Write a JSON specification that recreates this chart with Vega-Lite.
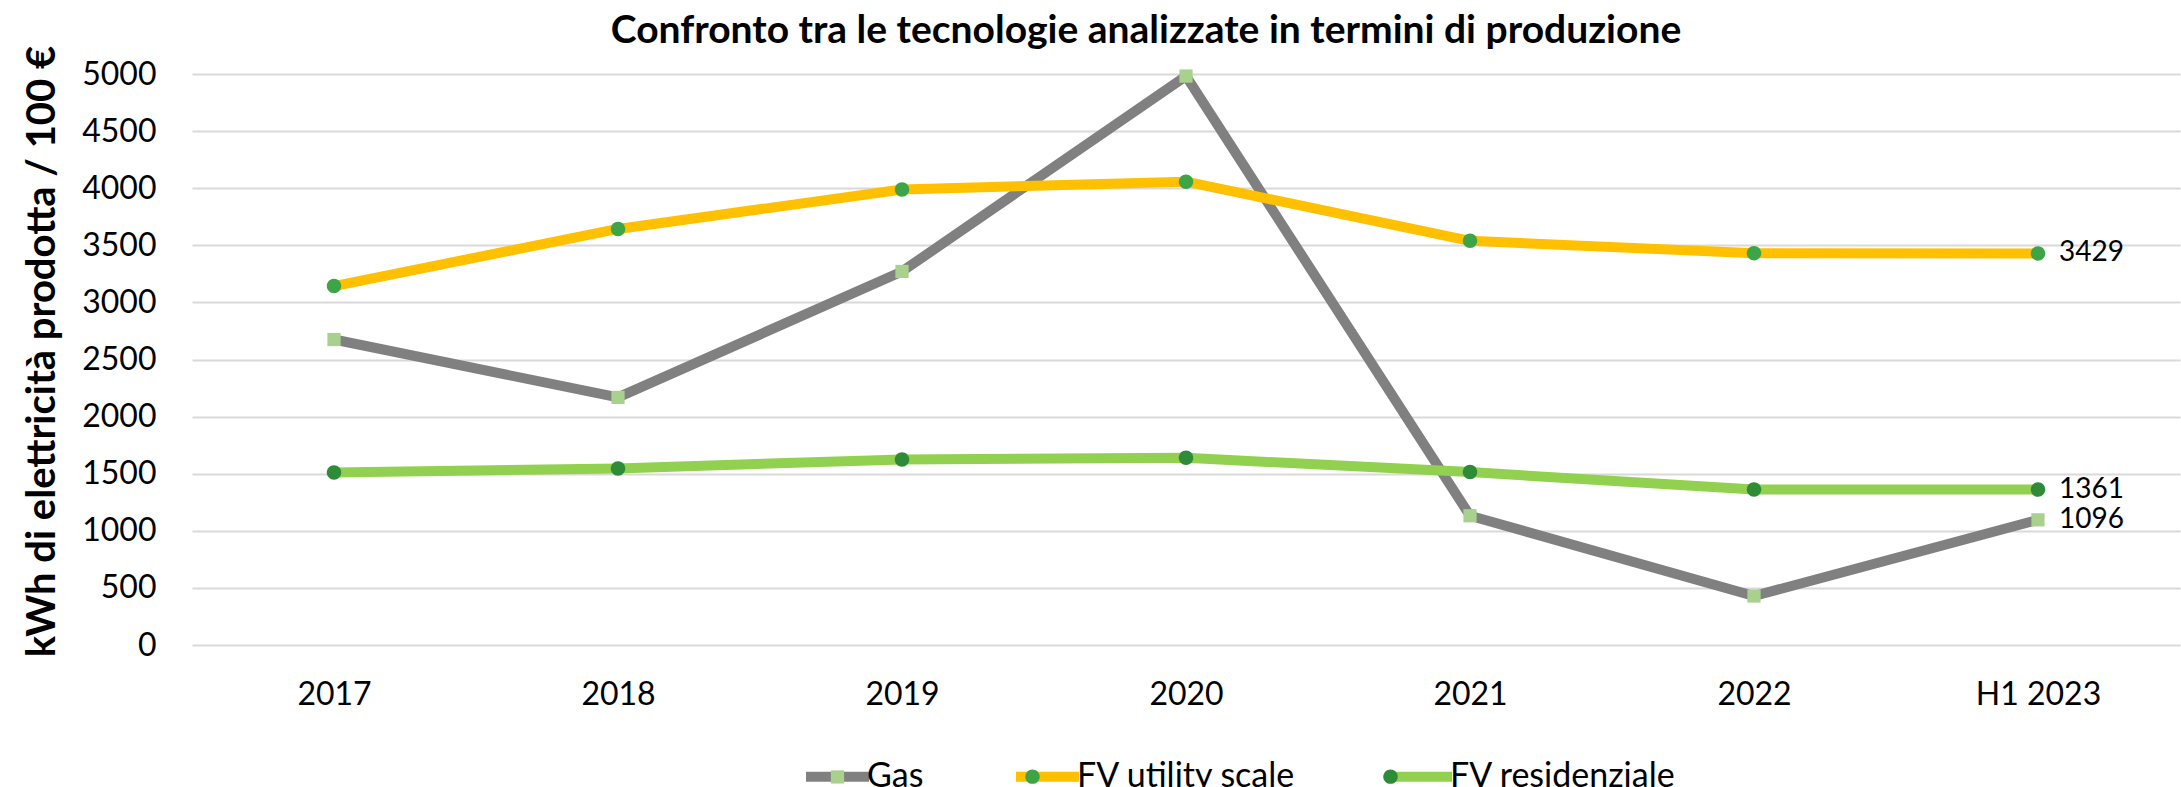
{
  "$schema": "https://vega.github.io/schema/vega-lite/v6.json",
  "width": 1988,
  "height": 571,
  "autosize": {"type": "none"},
  "padding": {"left": 192, "top": 74, "right": 1, "bottom": 142},
  "background": "white",
  "config": {"view": {"stroke": null}, "font": "Lato"},
  "title": {
    "text": "Confronto tra le tecnologie analizzate in termini di produzione",
    "font": "Lato", "fontSize": 39, "fontWeight": "bold", "color": "#000000",
    "anchor": "middle", "dx": -40, "offset": 0, "dy": 6
  },
  "data": {
    "values": [
      {"anno": "2017", "serie": "Gas", "valore": 2675},
      {"anno": "2018", "serie": "Gas", "valore": 2168},
      {"anno": "2019", "serie": "Gas", "valore": 3271},
      {"anno": "2020", "serie": "Gas", "valore": 4982},
      {"anno": "2021", "serie": "Gas", "valore": 1132},
      {"anno": "2022", "serie": "Gas", "valore": 429},
      {"anno": "H1 2023", "serie": "Gas", "valore": 1096},
      {"anno": "2017", "serie": "FV utility scale", "valore": 3143},
      {"anno": "2018", "serie": "FV utility scale", "valore": 3643},
      {"anno": "2019", "serie": "FV utility scale", "valore": 3989},
      {"anno": "2020", "serie": "FV utility scale", "valore": 4057},
      {"anno": "2021", "serie": "FV utility scale", "valore": 3539},
      {"anno": "2022", "serie": "FV utility scale", "valore": 3431},
      {"anno": "H1 2023", "serie": "FV utility scale", "valore": 3429},
      {"anno": "2017", "serie": "FV residenziale", "valore": 1511},
      {"anno": "2018", "serie": "FV residenziale", "valore": 1546},
      {"anno": "2019", "serie": "FV residenziale", "valore": 1625},
      {"anno": "2020", "serie": "FV residenziale", "valore": 1639},
      {"anno": "2021", "serie": "FV residenziale", "valore": 1514},
      {"anno": "2022", "serie": "FV residenziale", "valore": 1361},
      {"anno": "H1 2023", "serie": "FV residenziale", "valore": 1361}
    ]
  },
  "encoding": {
    "x": {
      "field": "anno", "type": "ordinal",
      "sort": ["2017", "2018", "2019", "2020", "2021", "2022", "H1 2023"],
      "scale": {"type": "point", "padding": 0.5},
      "axis": {
        "title": null, "labelAngle": 0, "ticks": false, "domain": false, "grid": false,
        "labelFont": "Lato", "labelFontSize": 32, "labelColor": "#000000", "labelPadding": 34
      }
    },
    "y": {
      "field": "valore", "type": "quantitative",
      "scale": {"domain": [0, 5000], "nice": false, "zero": true},
      "axis": {
        "title": "kWh di elettricità prodotta / 100 €",
        "titleFont": "Lato", "titleFontSize": 40, "titleFontWeight": "bold", "titleColor": "#000000",
        "titleX": -150, "titleY": 277, "titleAngle": -90, "titleAlign": "center", "titleBaseline": "middle",
        "values": [0, 500, 1000, 1500, 2000, 2500, 3000, 3500, 4000, 4500, 5000],
        "format": "d",
        "ticks": false, "domain": false, "grid": true, "gridColor": "#D9D9D9", "gridWidth": 2,
        "labelFont": "Lato", "labelFontSize": 32, "labelColor": "#000000", "labelPadding": 36
      }
    }
  },
  "layer": [
    {
      "mark": {"type": "line", "strokeWidth": 10, "strokeJoin": "round", "strokeCap": "butt"},
      "encoding": {
        "color": {
          "field": "serie", "type": "nominal",
          "scale": {"domain": ["Gas", "FV utility scale", "FV residenziale"], "range": ["#808080", "#FFC000", "#92D050"]},
          "legend": {
            "orient": "none", "legendX": 609, "legendY": 666, "direction": "horizontal", "title": null,
            "symbolType": "stroke", "symbolStrokeWidth": 10, "symbolSize": 3969,
            "labelFont": "Lato", "labelFontSize": 34, "labelColor": "#000000", "labelOffset": -7, "labelLimit": 600,
            "columnPadding": 72, "zindex": 0
          }
        }
      }
    },
    {
      "transform": [{"calculate": "datum.serie + ' '", "as": "marcatore"}],
      "mark": {"type": "point", "filled": true, "opacity": 1, "size": 3969},
      "encoding": {
        "fill": {
          "field": "marcatore", "type": "nominal",
          "scale": {"domain": ["Gas ", "FV utility scale ", "FV residenziale "], "range": ["#A9D18E", "#3DA447", "#2E8B37"]},
          "legend": {
            "orient": "none", "legendX": 609, "legendY": 666, "direction": "horizontal", "title": null,
            "symbolSize": 3969, "symbolStrokeWidth": 10, "symbolStrokeColor": "transparent",
            "labelFont": "Lato", "labelFontSize": 34, "labelOpacity": 0, "labelOffset": -7, "labelLimit": 600,
            "labelExpr": "trim(datum.label)",
            "columnPadding": 72, "zindex": 1
          }
        },
        "shape": {
          "field": "marcatore", "type": "nominal",
          "scale": {"domain": ["Gas ", "FV utility scale ", "FV residenziale "], "range": ["M-0.21,-0.21H0.21V0.21H-0.21Z", "M0.23,0A0.23,0.23,0,1,1,-0.23,0A0.23,0.23,0,1,1,0.23,0Z", "M0.23,0A0.23,0.23,0,1,1,-0.23,0A0.23,0.23,0,1,1,0.23,0Z"]}
        }
      }
    },
    {
      "transform": [{"filter": "datum.anno == 'H1 2023'"}],
      "mark": {"type": "text", "align": "left", "baseline": "middle", "dx": 21, "font": "Lato", "fontSize": 28, "color": "#000000"},
      "encoding": {"text": {"field": "valore", "type": "quantitative"}}
    }
  ]
}
